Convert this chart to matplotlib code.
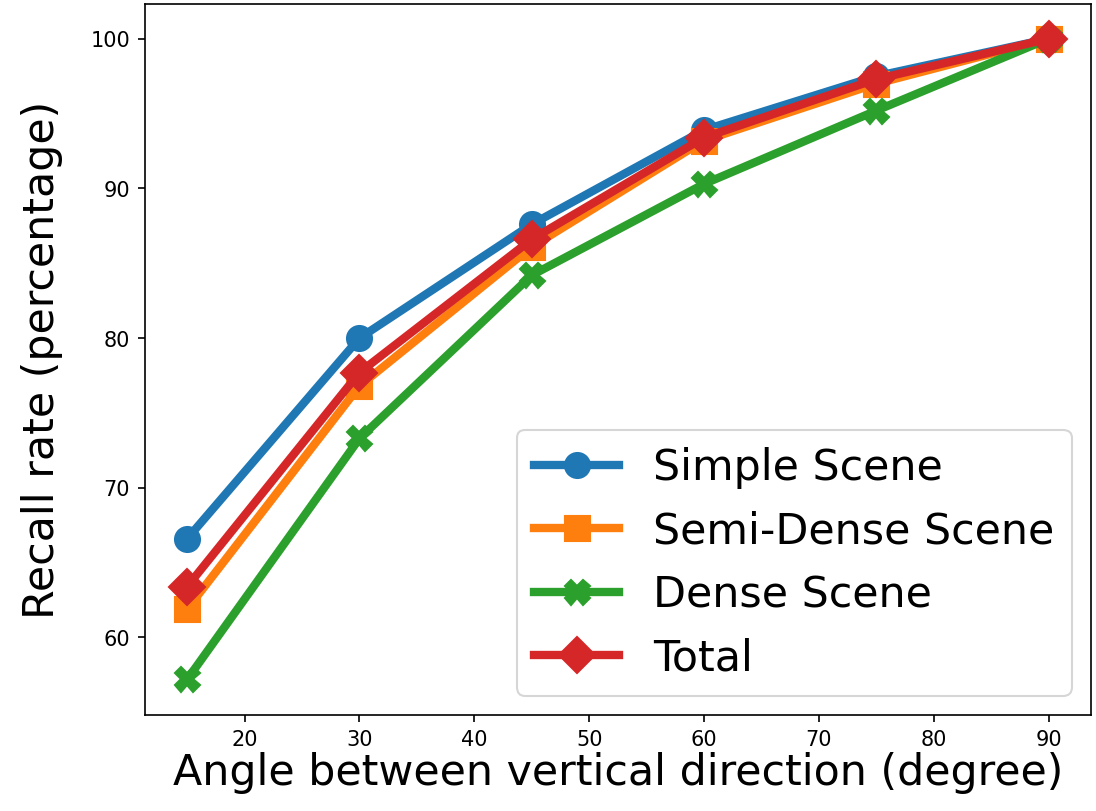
import matplotlib
matplotlib.use("Agg")
import matplotlib.pyplot as plt

angles = [15, 30, 45, 60, 75, 90]
simple = [66.6, 80.0, 87.6, 93.9, 97.5, 100.0]
semi_dense = [61.9, 76.8, 86.1, 93.2, 97.0, 100.0]
dense = [57.2, 73.3, 84.2, 90.3, 95.2, 100.0]
total = [63.4, 77.7, 86.6, 93.4, 97.3, 100.0]

fig = plt.figure(figsize=(7.31, 5.41), dpi=150)
ax = fig.add_axes([0.132, 0.118, 0.863, 0.876])

lw = 4
ms = 12
ax.plot(angles, simple, marker="o", lw=lw, ms=ms, label="Simple Scene")
ax.plot(angles, semi_dense, marker="s", lw=lw, ms=ms, label="Semi-Dense Scene")
ax.plot(angles, dense, marker="X", lw=lw, ms=ms, label="Dense Scene")
ax.plot(angles, total, marker="D", lw=lw, ms=ms, label="Total")

ax.set_xlim(11.3, 93.7)
ax.set_ylim(54.8, 102.3)
ax.set_xlabel("Angle between vertical direction (degree)", fontsize=20.5, labelpad=1)
ax.set_ylabel("Recall rate (percentage)", fontsize=20.5, labelpad=13)
ax.legend(loc="lower right", fontsize=20.5, borderaxespad=0.45)

fig.savefig("out.png", dpi=150)
